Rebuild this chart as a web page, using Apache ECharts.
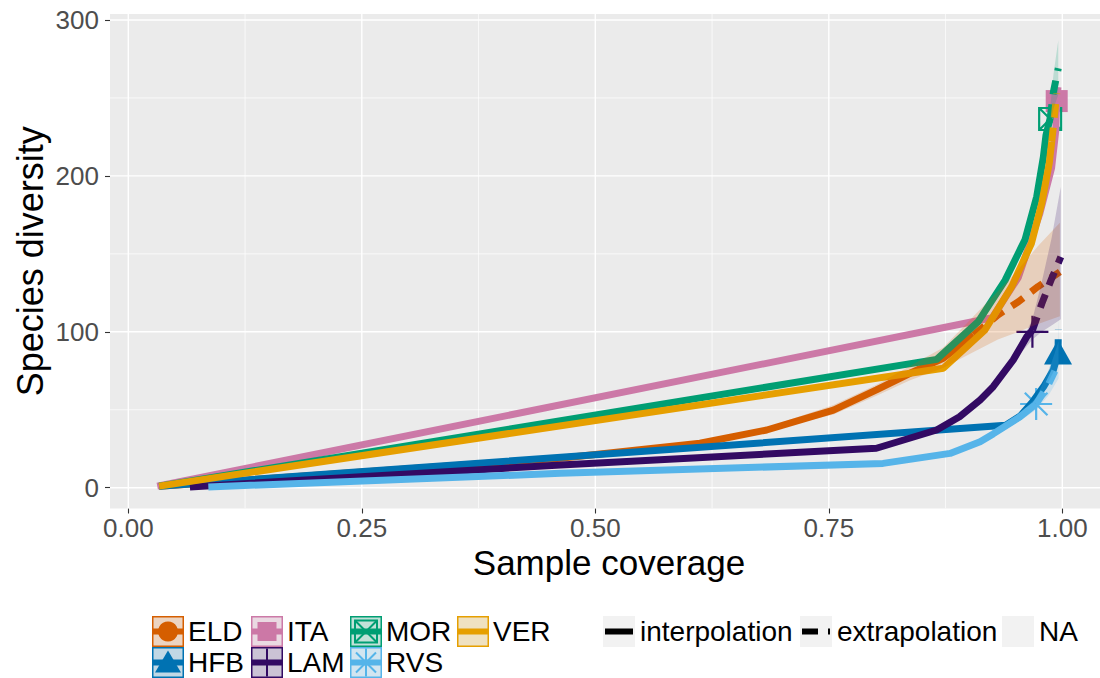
<!DOCTYPE html>
<html><head><meta charset="utf-8">
<script src="https://cdn.jsdelivr.net/npm/echarts@6/dist/echarts.min.js"></script>
<style>html,body{margin:0;padding:0;background:#fff}#c{width:1100px;height:678px}</style>
</head><body><div id="c"></div>
<script>
// ---- data ----
const sites  = ['ELD','HFB','ITA','LAM','MOR','RVS','VER'];
const colors = ['#D55E00','#0072B2','#CC79A7','#330A63','#009E73','#56B4E9','#E69F00'];
const shapes = ['circle','triangle','square','plus','squarecross','asterisk','none'];

// interpolated (solid) and extrapolated (dashed) curves: [coverage, diversity]
const eldInterp = [[0.033,1],[0.4627,18.9],[0.612,28.5],[0.6835,37],[0.755,49.8],[0.801,62.7],[0.837,73.4],[0.8726,83],[0.905,98]];
const eldExtrap = [[0.905,98],[0.931,110.8],[0.953,119.3],[0.974,129],[0.9974,138.5]];
const hfbInterp = [[0.033,1],[0.939,40],[0.955,46],[0.968,55],[0.980,64.8],[0.9904,75.5],[0.9954,86.2]];
const hfbExtrap = [[0.9954,86.2],[0.9958,101.8]];
const itaInterp = [[0.031,1],[0.925,109],[0.953,135],[0.976,176],[0.9885,205],[0.993,229],[0.994,248]];
const itaExtrap = [[0.994,248],[0.9955,258]];
const lamInterp = [[0.066,0.5],[0.4627,14.6],[0.801,25.3],[0.8655,37],[0.890,45.5],[0.912,56.3],[0.926,64.8],[0.9475,82],[0.962,96.9],[0.968,101]];
const lamExtrap = [[0.968,101],[0.978,118],[0.9885,134],[0.9984,148]];
const morInterp = [[0.033,1],[0.8655,82.3],[0.910,106.5],[0.9387,133],[0.960,159],[0.9726,186.7],[0.9797,212],[0.9825,226],[0.987,237]];
const morExtrap = [[0.987,237],[0.9905,254],[0.9957,269]];
const rvsInterp = [[0.0857,0.5],[0.4627,9.2],[0.808,15.6],[0.8798,22],[0.912,29.5],[0.926,34.5],[0.9547,45.5],[0.972,53.7]];
const rvsExtrap = [[0.972,53.7],[0.985,66],[0.996,80]];
const verInterp = [[0.033,1],[0.8726,76.6],[0.917,101],[0.9458,129],[0.967,156.8],[0.978,182.4],[0.986,208],[0.9887,222]];
const verExtrap = [[0.9887,222],[0.9915,238],[0.994,253]];

// observed reference samples (marker positions); ELD and VER have no visible marker
const observedPts = [null,[0.9954,87],[0.994,248],[0.968,100],[0.987,236.5],[0.972,53.7],null];

// confidence bands: [coverage, lower, upper]
const eldBand = [[0.70,39,42],[0.755,47,53],[0.801,59,66],[0.837,69,78],[0.8726,77,90],[0.905,87,110],[0.931,95,126],[0.953,100,140],[0.974,105,155],[0.9974,110,170]];
const hfbBand = [[0.980,62,67],[0.9954,80,92],[0.9958,90,112]];
const lamBand = [[0.955,86,92],[0.968,95,108],[0.978,100,132],[0.9885,104,160],[0.9984,108,193]];
const morBand = [[0.983,225,233],[0.987,231,243],[0.9905,243,265],[0.9957,252,287]];
const rvsBand = [[0.955,43,48],[0.972,50,58],[0.985,59,74],[0.996,70,94]];

// axis ticks
const xMajor = [0,0.25,0.5,0.75,1];
const xMinor = [0.125,0.375,0.625,0.875];
const yMajor = [0,100,200,300];
const yMinor = [50,150,250];
const xTickLabels = ['0.00','0.25','0.50','0.75','1.00'];
const yTickLabels = ['0','100','200','300'];
const methodNames = ['interpolation','extrapolation','NA'];

// ---- build ----
const FONT = '"Liberation Sans", Arial, Helvetica, sans-serif';
const interps = [eldInterp,hfbInterp,itaInterp,lamInterp,morInterp,rvsInterp,verInterp];
const extraps = [eldExtrap,hfbExtrap,itaExtrap,lamExtrap,morExtrap,rvsExtrap,verExtrap];
const bands = [eldBand,hfbBand,null,lamBand,morBand,rvsBand,null];
const LW = 7, DASH = [14,10];
const X_MIN = -0.01959, X_MAX = 1.04036, Y_MIN = -13.34, Y_MAX = 303.85;

const symbolFor = {
  circle:'circle', triangle:'triangle', square:'rect',
  plus:'path://M0,5L10,5M5,0L5,10',
  squarecross:'path://M0,0L10,0L10,10L0,10ZM0,0L10,10M10,0L0,10',
  asterisk:'path://M5,0L5,10M0,5L10,5M1.46,1.46L8.54,8.54M8.54,1.46L1.46,8.54'
};
const symbolSize = {circle:20, triangle:[28,25], square:22, plus:32, squarecross:22, asterisk:32};
const filled = {circle:true, triangle:true, square:true};

const series = [];
// grid lines
const gridData = [];
xMajor.forEach(v=>gridData.push([0,v,1.4]));
xMinor.forEach(v=>gridData.push([0,v,0.7]));
yMajor.forEach(v=>gridData.push([1,v,1.4]));
yMinor.forEach(v=>gridData.push([1,v,0.7]));
series.push({
  type:'custom', z:1, silent:true, clip:true, animation:false,
  encode:{x:-1,y:-1},
  data: gridData,
  renderItem:(p,api)=>{
    const d = gridData[p.dataIndex], cs = p.coordSys;
    if (d[0]===0){ const x = api.coord([d[1],0])[0];
      return {type:'line', shape:{x1:x,y1:cs.y,x2:x,y2:cs.y+cs.height}, style:{stroke:'#FFFFFF',lineWidth:d[2]}}; }
    const y = api.coord([0,d[1]])[1];
    return {type:'line', shape:{x1:cs.x,y1:y,x2:cs.x+cs.width,y2:y}, style:{stroke:'#FFFFFF',lineWidth:d[2]}};
  }
});
// markers (drawn beneath the lines)
sites.forEach((s,i)=>{
  const pt = observedPts[i]; if(!pt) return;
  const sh = shapes[i];
  series.push({
    type:'scatter', name:s+' observed', z:2, silent:true, animation:false,
    symbol: symbolFor[sh], symbolSize: symbolSize[sh],
    itemStyle: filled[sh] ? {color:colors[i], opacity:1} : {color:'rgba(0,0,0,0)', borderColor:colors[i], borderWidth:2.2, opacity:1},
    data:[pt]
  });
});
// curves
sites.forEach((s,i)=>{
  series.push({type:'line', name:s, z:3, data:interps[i], showSymbol:false, silent:true, animation:false,
    lineStyle:{color:colors[i], width:LW, type:'solid', cap:'butt', join:'round'}});
  series.push({type:'line', name:s+' extrapolation', z:3, data:extraps[i], showSymbol:false, silent:true, animation:false,
    lineStyle:{color:colors[i], width:LW, type:DASH, cap:'butt', join:'round'}});
});
// confidence bands (drawn on top, translucent)
sites.forEach((s,i)=>{
  const b = bands[i]; if(!b) return;
  series.push({
    type:'custom', name:s+' band', z:4, silent:true, clip:true, animation:false,
    encode:{x:0,y:[1,2]}, data:b,
    renderItem:(p,api)=>{
      if(p.dataIndex!==0) return null;
      const up = b.map(r=>api.coord([r[0],r[2]]));
      const lo = b.slice().reverse().map(r=>api.coord([r[0],r[1]]));
      return {type:'polygon', shape:{points:up.concat(lo)}, style:{fill:colors[i], opacity:0.2}};
    }
  });
});

// ---- legend (graphic) ----
const graphics = [];
const KW = 32, KH = 31;
const rowTop = [616, 647];
const siteKeyX = [152, 251, 350, 457];
function shapeEls(sh, cx, cy, c){
  const st = {stroke:c, lineWidth:2, fill:null};
  switch(sh){
    case 'circle': return [{type:'circle', shape:{cx,cy,r:10}, style:{fill:c}}];
    case 'triangle': return [{type:'polygon', shape:{points:[[cx,cy-12],[cx+13,cy+10],[cx-13,cy+10]]}, style:{fill:c}}];
    case 'square': return [{type:'rect', shape:{x:cx-9.5,y:cy-9.5,width:19,height:19}, style:{fill:c}}];
    case 'plus': return [
      {type:'line', shape:{x1:cx-14,y1:cy,x2:cx+14,y2:cy}, style:st},
      {type:'line', shape:{x1:cx,y1:cy-14,x2:cx,y2:cy+14}, style:st}];
    case 'squarecross': return [
      {type:'rect', shape:{x:cx-11,y:cy-11,width:22,height:22}, style:st},
      {type:'line', shape:{x1:cx-11,y1:cy-11,x2:cx+11,y2:cy+11}, style:st},
      {type:'line', shape:{x1:cx+11,y1:cy-11,x2:cx-11,y2:cy+11}, style:st}];
    case 'asterisk': return [
      {type:'line', shape:{x1:cx-14,y1:cy,x2:cx+14,y2:cy}, style:st},
      {type:'line', shape:{x1:cx,y1:cy-14,x2:cx,y2:cy+14}, style:st},
      {type:'line', shape:{x1:cx-10,y1:cy-10,x2:cx+10,y2:cy+10}, style:st},
      {type:'line', shape:{x1:cx+10,y1:cy-10,x2:cx-10,y2:cy+10}, style:st}];
  }
  return [];
}
sites.forEach((s,i)=>{
  const col = Math.floor(i/2), row = i%2;
  const x = siteKeyX[col], y = rowTop[row], cx = x+KW/2, cy = y+KH/2;
  graphics.push({type:'rect', shape:{x,y,width:KW,height:KH}, style:{fill:'#F2F2F2'}});
  shapeEls(shapes[i],cx,cy,colors[i]).forEach(e=>graphics.push(e));
  graphics.push({type:'line', shape:{x1:x+1,y1:cy,x2:x+KW-1,y2:cy}, style:{stroke:colors[i], lineWidth:6}});
  graphics.push({type:'rect', shape:{x:x+0.75,y:y+0.75,width:KW-1.5,height:KH-1.5}, style:{fill:colors[i], opacity:0.2}});
  graphics.push({type:'rect', shape:{x:x+0.75,y:y+0.75,width:KW-1.5,height:KH-1.5}, style:{fill:null, stroke:colors[i], lineWidth:1.5}});
  graphics.push({type:'text', x:x+KW+4, y:cy, style:{text:s, font:'28px '+FONT, fill:'#000', textVerticalAlign:'middle', verticalAlign:'middle'}});
});
const methodKeyX = [603, 800, 1002];
methodNames.forEach((m,i)=>{
  const x = methodKeyX[i], y = rowTop[0], cy = y+KH/2;
  graphics.push({type:'rect', shape:{x,y,width:KW,height:KH}, style:{fill:'#F2F2F2'}});
  if(i===0) graphics.push({type:'line', shape:{x1:x+2,y1:cy,x2:x+KW-2,y2:cy}, style:{stroke:'#000', lineWidth:6}});
  if(i===1) graphics.push({type:'line', shape:{x1:x+2,y1:cy,x2:x+KW-2,y2:cy}, style:{stroke:'#000', lineWidth:6, lineDash:[16,10]}});
  graphics.push({type:'text', x:x+KW+5, y:cy, style:{text:m, font:'28px '+FONT, fill:'#000', textVerticalAlign:'middle', verticalAlign:'middle'}});
});

const chart = echarts.init(document.getElementById('c'), null, {renderer:'svg', width:1100, height:678});
chart.setOption({
  animation:false,
  backgroundColor:'#FFFFFF',
  grid:{left:110, right:0, top:14, bottom:169.5, show:true, backgroundColor:'#EBEBEB', borderWidth:0,
        containLabel:false, outerBoundsMode:'none'},
  xAxis:{
    type:'value', min:X_MIN, max:X_MAX, position:'bottom',
    name:'Sample coverage', nameLocation:'middle', nameGap:36, nameMoveOverlap:false,
    nameTextStyle:{fontFamily:FONT, fontSize:35, color:'#000', padding:[0,0,0,8]},
    axisLine:{show:false, onZero:false}, splitLine:{show:false},
    axisTick:{show:true, length:5, lineStyle:{color:'#333333', width:1.1}, customValues:xMajor},
    axisLabel:{customValues:xMajor, margin:6, fontFamily:FONT, fontSize:26, color:'#4D4D4D', hideOverlap:false,
      formatter:v=>{const k=xMajor.findIndex(t=>Math.abs(t-v)<1e-9); return k>=0?xTickLabels[k]:'';}}
  },
  yAxis:{
    type:'value', min:Y_MIN, max:Y_MAX, position:'left',
    name:'Species diversity', nameLocation:'middle', nameGap:62, nameMoveOverlap:false,
    nameTextStyle:{fontFamily:FONT, fontSize:36, color:'#000'},
    axisLine:{show:false, onZero:false}, splitLine:{show:false},
    axisTick:{show:true, length:5, lineStyle:{color:'#333333', width:1.1}, customValues:yMajor},
    axisLabel:{customValues:yMajor, margin:11, fontFamily:FONT, fontSize:26, color:'#4D4D4D', hideOverlap:false,
      formatter:v=>{const k=yMajor.findIndex(t=>Math.abs(t-v)<1e-9); return k>=0?yTickLabels[k]:'';}}
  },
  graphic: graphics,
  series: series
});
</script></body></html>
